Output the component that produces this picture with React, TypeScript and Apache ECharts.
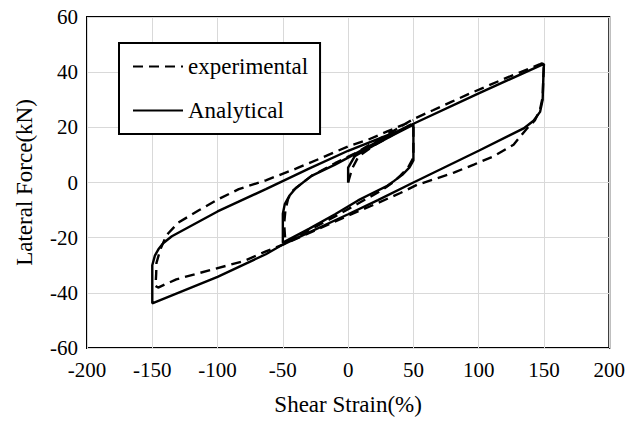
import React, { useEffect, useRef } from "react";
import * as echarts from "echarts";

const xTicks = { min: -200, max: 200, interval: 50 };
const yTicks = { min: -60, max: 60, interval: 20 };

const seriesNames = ["experimental", "Analytical"];

const experimental: [number, number][] = [
  [0, 0], [3, 5], [8, 9.5], [20, 13.5], [35, 17.5], [50, 21.5],
  [50, 9], [46, 5.5], [40, 2.5], [35, 0.3], [25, -3], [10, -7], [-10, -12.3], [-30, -17.3], [-48, -21.8],
  [-49, -15], [-48, -10], [-46, -6], [-43, -3.2], [-36, -0.5], [-28, 2.4], [-10, 7], [5, 10.5], [25, 16], [50, 23],
  [65, 26.2], [79, 29.2], [92.5, 32.1], [119, 37.5], [147, 42.9], [150, 43.5],
  [149.5, 38], [149, 31], [147, 26.5], [143, 22.5], [137, 19.6], [126.7, 13.7], [111.5, 9.5], [96.3, 6.5],
  [81, 3.6], [66, 1.2], [53, -0.8], [40, -3.8], [20, -8], [0, -12], [-25, -17.3], [-50, -22.5], [-63, -25],
  [-80, -28.5], [-103.6, -31.5], [-131.6, -35.1], [-145.5, -38.1], [-147.5, -37.5],
  [-147, -33], [-146.8, -29.2], [-144, -24.5], [-140, -20], [-137.9, -18.5], [-130, -14.5], [-114, -10],
  [-100, -6.2], [-83.7, -2.4], [-63, 0.8], [-40, 5], [-20, 9], [0, 13.1], [15.2, 15.5], [30, 18.5], [50, 22.5],
];

const analytical: [number, number][] = [
  [0, 0], [0, 5.4], [5, 9.5], [20, 13.5], [35, 17.3], [50, 21],
  [50, 8], [47, 5.5], [42, 3], [35, 0.5], [30, -1.2], [18, -4], [7.6, -6.5], [-10, -11.5], [-30, -16.8], [-50, -21.8],
  [-50, -11.3], [-48.5, -7.8], [-45, -4.8], [-40, -2], [-28, 2.4], [-10, 6.5], [5, 10.3], [25, 15.5], [50, 21.3],
  [100, 32.3], [130, 38.8], [150, 43],
  [149.5, 38], [149, 30], [147, 25.6], [142, 22.4], [134.4, 19.6], [100, 11.5], [50, 0], [22.8, -6.4],
  [0, -11.5], [-50, -22.5], [-63, -26], [-100, -34.2], [-150, -43.8],
  [-150, -30], [-148, -26.5], [-145, -24], [-141.7, -22], [-135, -19.5], [-100, -10.5], [-63, -2.4],
  [-30, 5], [0, 11.5], [38, 18.6], [50, 21.3], [100, 32.3], [150, 43],
];

const FONT = "Liberation Serif";

export default function App() {
  const ref = useRef<HTMLDivElement>(null);
  useEffect(() => {
    if (!ref.current) return;
    const chart = echarts.init(ref.current, undefined, { renderer: "svg" });
    chart.setOption({
      animation: false,
      backgroundColor: "#fff",
      textStyle: { fontFamily: FONT },
      grid: {
        left: 87,
        right: 15,
        top: 17,
        bottom: 68,
        show: true,
        borderColor: "#000",
        borderWidth: 2,
        containLabel: false,
      },
      legend: {
        orient: "vertical",
        left: 119,
        top: 43,
        data: seriesNames,
        borderColor: "#000",
        borderWidth: 2,
        padding: [12, 12, 12, 13],
        itemWidth: 50,
        itemHeight: 14,
        itemGap: 21,
        backgroundColor: "#fff",
        itemStyle: { color: "rgba(0,0,0,0)", borderWidth: 0, opacity: 0 },
        textStyle: { fontFamily: FONT, fontSize: 23, color: "#000" },
      },
      xAxis: {
        type: "value",
        min: xTicks.min,
        max: xTicks.max,
        interval: xTicks.interval,
        name: "Shear Strain(%)",
        nameLocation: "middle",
        nameGap: 45,
        nameTextStyle: { fontFamily: FONT, fontSize: 23, color: "#000" },
        axisLine: { show: false, onZero: false },
        axisTick: { show: false },
        axisLabel: { fontFamily: FONT, fontSize: 21, color: "#000", margin: 11 },
        splitLine: { show: true, lineStyle: { color: "#d9d9d9", width: 1 } },
      },
      yAxis: {
        type: "value",
        min: yTicks.min,
        max: yTicks.max,
        interval: yTicks.interval,
        name: "Lateral Force(kN)",
        nameLocation: "middle",
        nameGap: 51,
        nameTextStyle: { fontFamily: FONT, fontSize: 23, color: "#000" },
        axisLine: { show: false, onZero: false },
        axisTick: { show: false },
        axisLabel: { fontFamily: FONT, fontSize: 21, color: "#000", margin: 9 },
        splitLine: { show: true, lineStyle: { color: "#d9d9d9", width: 1 } },
      },
      series: [
        {
          name: seriesNames[0],
          type: "line",
          data: experimental,
          symbol: "none",
          lineStyle: { color: "#000", width: 2.4, type: [10, 6] },
          itemStyle: { color: "#000" },
          z: 3,
        },
        {
          name: seriesNames[1],
          type: "line",
          data: analytical,
          symbol: "none",
          lineStyle: { color: "#000", width: 2.4, type: "solid" },
          itemStyle: { color: "#000" },
          z: 4,
        },
      ],
    });
    return () => chart.dispose();
  }, []);
  return (
    <div
      ref={ref}
      style={{ position: "fixed", left: 0, top: 0, width: 628, height: 421, background: "#fff" }}
    />
  );
}
